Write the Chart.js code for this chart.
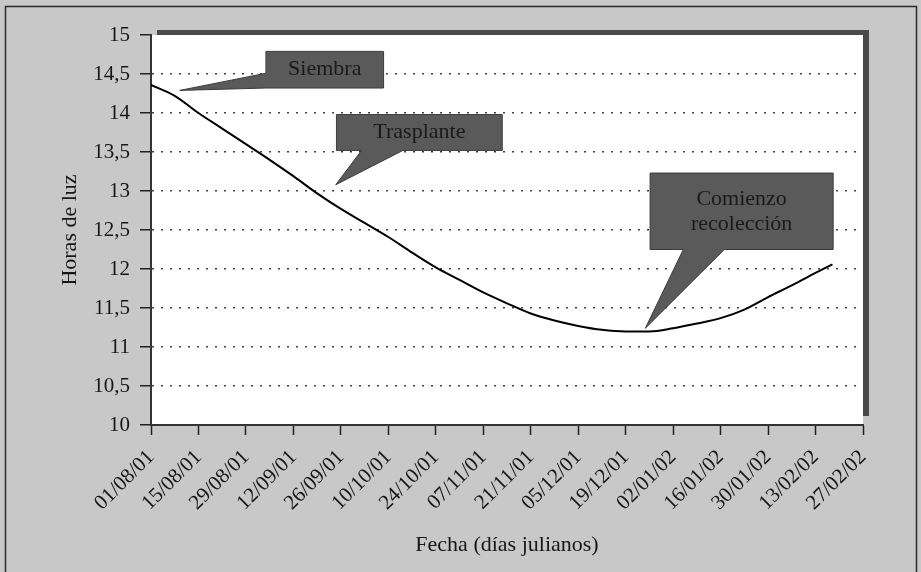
<!DOCTYPE html>
<html>
<head>
<meta charset="utf-8">
<script src="https://cdn.jsdelivr.net/npm/chart.js@4/dist/chart.umd.min.js"></script>
<style>
  html, body { margin: 0; padding: 0; background: #c8c8c8; }
  #wrap { width: 921px; height: 572px; }
</style>
</head>
<body>
<div id="wrap"><canvas id="chart" width="921" height="572"></canvas></div>
<script>
// Horas de luz entre agosto 2001 y febrero 2002 (día 0 = 01/08/01)
const days  = [0, 7, 14, 21, 28, 35, 42, 49, 56, 63, 70, 77, 84, 91, 98, 105,
               112, 119, 126, 133, 140, 147, 154, 161, 168, 175, 182, 189, 196, 201];
const hours = [14.36, 14.22, 14.00, 13.80, 13.60, 13.40, 13.19, 12.97, 12.77, 12.59,
               12.41, 12.21, 12.02, 11.86, 11.70, 11.56, 11.43, 11.34, 11.27, 11.22,
               11.20, 11.20, 11.24, 11.30, 11.37, 11.48, 11.64, 11.79, 11.95, 12.06];
const tickLabels = ['01/08/01', '15/08/01', '29/08/01', '12/09/01', '26/09/01', '10/10/01',
                    '24/10/01', '07/11/01', '21/11/01', '05/12/01', '19/12/01', '02/01/02',
                    '16/01/02', '30/01/02', '13/02/02', '27/02/02'];

const SERIF = '"Liberation Serif", "Times New Roman", serif';
const INK = '#161616';

// globos de texto, en coordenadas de datos (días, horas)
const callouts = [
  { lines: ['Siembra'], x0: 33.9, x1: 68.6, y0: 14.79, y1: 14.32,
    side: 'left', base: [14.51, 14.32], tip: [8.5, 14.29] },
  { lines: ['Trasplante'], x0: 54.7, x1: 103.6, y0: 13.98, y1: 13.52,
    side: 'bottom', base: [62.1, 74.3], tip: [54.5, 13.08] },
  { lines: ['Comienzo', 'recolección'], x0: 147.2, x1: 201.2, y0: 13.23, y1: 12.25,
    side: 'bottom', base: [157.0, 169.1], tip: [145.8, 11.24] },
];

const backdrop = {
  id: 'backdrop',
  beforeDraw(chart) {
    const { ctx, chartArea: a } = chart;
    ctx.save();
    ctx.fillStyle = '#c8c8c8';
    ctx.fillRect(0, 0, chart.width, chart.height);
    ctx.strokeStyle = '#2a2a2a';
    ctx.lineWidth = 1.5;
    ctx.strokeRect(5.5, 6.5, chart.width - 10, chart.height + 10);
    // sombra del área de trazado (arriba y derecha)
    ctx.fillStyle = '#4a4a4a';
    ctx.fillRect(a.left + 6, a.top - 5, a.width, 5);
    ctx.fillRect(a.right, a.top - 5, 6, a.height - 4);
    ctx.fillStyle = '#ffffff';
    ctx.fillRect(a.left, a.top, a.width, a.height);
    ctx.restore();
  }
};

const balloons = {
  id: 'balloons',
  afterDatasetsDraw(chart) {
    const { ctx, scales: { x, y } } = chart;
    ctx.save();
    callouts.forEach(c => {
      const L = x.getPixelForValue(c.x0), R = x.getPixelForValue(c.x1);
      const T = y.getPixelForValue(c.y0), B = y.getPixelForValue(c.y1);
      const tx = x.getPixelForValue(c.tip[0]), ty = y.getPixelForValue(c.tip[1]);
      ctx.beginPath();
      ctx.moveTo(L, T);
      ctx.lineTo(R, T);
      ctx.lineTo(R, B);
      if (c.side === 'bottom') {
        ctx.lineTo(x.getPixelForValue(c.base[1]), B);
        ctx.lineTo(tx, ty);
        ctx.lineTo(x.getPixelForValue(c.base[0]), B);
        ctx.lineTo(L, B);
      } else {
        ctx.lineTo(L, B);
        ctx.lineTo(tx, ty);
        ctx.lineTo(L, y.getPixelForValue(c.base[0]));
      }
      ctx.closePath();
      ctx.fillStyle = '#5a5a5a';
      ctx.fill();
      ctx.lineWidth = 1;
      ctx.strokeStyle = '#3c3c3c';
      ctx.stroke();

      ctx.fillStyle = '#1a1a1a';
      ctx.font = '22px ' + SERIF;
      ctx.textAlign = 'center';
      ctx.textBaseline = 'middle';
      const lh = 25;
      const cy = (T + B) / 2 - (c.lines.length - 1) * lh / 2;
      c.lines.forEach((t, i) => ctx.fillText(t, (L + R) / 2, cy + i * lh));
    });
    ctx.restore();
  }
};

new Chart(document.getElementById('chart'), {
  type: 'line',
  data: {
    datasets: [{
      data: days.map((d, i) => ({ x: d, y: hours[i] })),
      borderColor: '#000',
      borderWidth: 2,
      pointRadius: 0,
      cubicInterpolationMode: 'monotone',
      fill: false,
    }],
  },
  options: {
    responsive: false,
    animation: false,
    layout: { padding: { left: 0, top: 35, right: 58, bottom: 0 } },
    plugins: { legend: { display: false }, tooltip: { enabled: false } },
    scales: {
      x: {
        type: 'linear',
        min: 0, max: 210,
        afterFit: s => { s.height = 147; },
        grid: { drawOnChartArea: false, tickLength: 10, tickColor: '#222', tickWidth: 1.5 },
        border: { color: '#333', width: 2 },
        ticks: {
          stepSize: 14, autoSkip: false, minRotation: 45, maxRotation: 45,
          padding: 10, color: INK, font: { family: SERIF, size: 21 },
          callback: v => tickLabels[Math.round(v / 14)],
        },
        title: {
          display: true, text: 'Fecha (días julianos)', color: INK,
          font: { family: SERIF, size: 22 }, padding: { top: 0, bottom: 14 },
        },
      },
      y: {
        min: 10, max: 15,
        afterFit: s => { s.width = 151; },
        grid: {
          color: c => (c.tick.value === 10 || c.tick.value === 15) ? 'rgba(0,0,0,0)' : '#444',
          lineWidth: 1.5, tickLength: 11, tickColor: '#222', tickWidth: 1.5,
        },
        border: { color: '#333', width: 2, dash: [2, 7] },
        ticks: {
          stepSize: 0.5, padding: 10, color: INK, font: { family: SERIF, size: 21 },
          callback: v => String(v).replace('.', ','),
        },
        title: {
          display: true, text: 'Horas de luz', color: INK,
          font: { family: SERIF, size: 22 }, padding: { top: 57, bottom: 0 },
        },
      },
    },
  },
  plugins: [backdrop, balloons],
});
</script>
</body>
</html>
